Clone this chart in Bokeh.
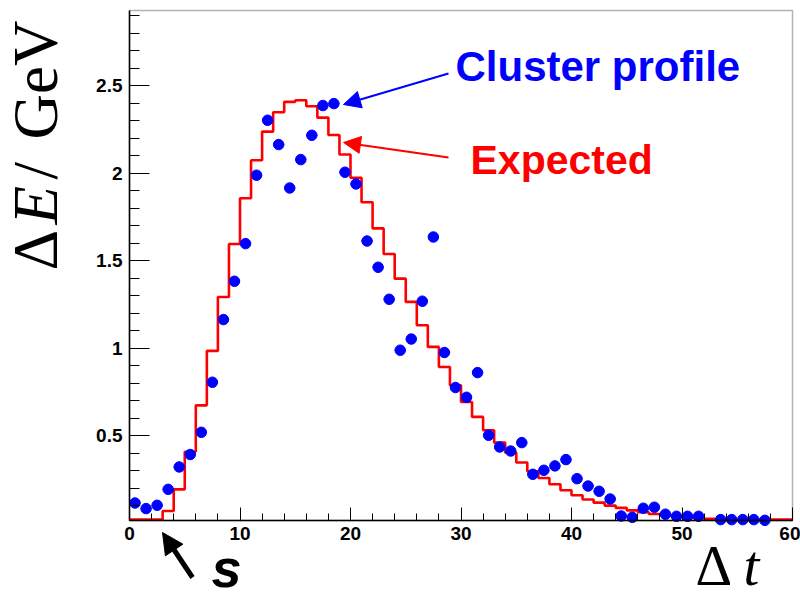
import math
import numpy as np
from bokeh.plotting import figure
from bokeh.models import (Range1d, FixedTicker, Label, Arrow, NormalHead,
                          BoxAnnotation)
from bokeh.embed import file_html
from bokeh.resources import INLINE

# ---------------- data ----------------
bin_edges = list(range(0, 61))  # 60 bins of width 1
expected = [0.0, 0.0, 0.0, 0.071, 0.195, 0.41, 0.675, 0.986, 1.294, 1.597,
            1.858, 2.075, 2.239, 2.35, 2.409, 2.418, 2.384, 2.319, 2.22, 2.108,
            1.975, 1.835, 1.686, 1.54, 1.399, 1.266, 1.133, 1.009, 0.894, 0.79,
            0.694, 0.609, 0.533, 0.462, 0.405, 0.348, 0.298, 0.26, 0.224, 0.19,
            0.161, 0.137, 0.119, 0.102, 0.089, 0.075, 0.064, 0.054, 0.047, 0.041,
            0.035, 0.030, 0.026, 0.024, 0.022, 0.020, 0.019, 0.018, 0.017, 0.017]
cluster_x = [i + 0.5 for i in range(58)]
cluster_y = [0.117, 0.085, 0.104, 0.195, 0.323, 0.394, 0.521, 0.807, 1.165, 1.384,
             1.599, 1.99, 2.304, 2.165, 1.917, 2.079, 2.218, 2.388, 2.399, 2.007,
             1.94, 1.614, 1.464, 1.281, 0.99, 1.054, 1.27, 1.637, 0.977, 0.777,
             0.721, 0.862, 0.504, 0.437, 0.414, 0.462, 0.281, 0.304, 0.329, 0.365,
             0.256, 0.214, 0.184, 0.14, 0.043, 0.035, 0.087, 0.093, 0.053, 0.041,
             0.041, 0.041, float("nan"), 0.022, 0.022, 0.022, 0.022, 0.018]
x_ticks = [0, 10, 20, 30, 40, 50, 60]
x_tick_labels = ["0", "10", "20", "30", "40", "50", "60"]
y_ticks = [0.5, 1, 1.5, 2, 2.5]
y_tick_labels = ["0.5", "1", "1.5", "2", "2.5"]

X_MIN, X_MAX = 0, 60
Y_MIN, Y_MAX = 0.017, 2.931

# ---------------- layout ----------------
W, H = 800, 598
ML, MR, MT, MB = 129, 8, 10, 78          # margins of the ROOT frame box
SX = (W - ML - MR) / (X_MAX - X_MIN)    # pixels per x unit
SY = (H - MT - MB) / (Y_MAX - Y_MIN)    # pixels per y unit
XLO, XHI = X_MIN - ML / SX, X_MAX + MR / SX
YLO, YHI = Y_MIN - MB / SY, Y_MAX + MT / SY
BASE_FIX = 0.36   # empirical shift of Bokeh's text baseline (fraction of size)


def X(px):
    return XLO + px / SX


def Y(py):
    return YHI - py / SY


def label(px, py, text, size, color="black", font="Liberation Sans",
          style="normal", angle=0.0):
    """Place text with its baseline at pixel (px, py)."""
    if angle:
        px -= BASE_FIX * size
    else:
        py -= BASE_FIX * size
    return Label(x=X(px), y=Y(py), text=text, angle=angle, text_font=font,
                 text_font_style=style, text_font_size=f"{size}px",
                 text_color=color, text_align="left",
                 text_baseline="alphabetic")


p = figure(width=W, height=H, output_backend="svg", toolbar_location=None,
           x_range=Range1d(XLO, XHI), y_range=Range1d(YLO, YHI),
           min_border=0, min_border_left=0, min_border_right=0,
           min_border_top=0, min_border_bottom=0)
p.grid.visible = False
p.background_fill_color = "white"
p.border_fill_color = "white"
p.outline_line_color = None

# axes, drawn at the edges of the frame box
for ax in (p.xaxis[0], p.yaxis[0]):
    ax.axis_line_color = "black"
    ax.axis_line_width = 1.5
    ax.major_tick_line_color = "black"
    ax.minor_tick_line_color = "black"
    ax.major_tick_line_width = 1
    ax.minor_tick_line_width = 1
    ax.major_tick_out = 0
    ax.minor_tick_out = 0
    ax.major_label_text_font = "Liberation Sans"
    ax.major_label_text_font_style = "bold"
    ax.major_label_text_font_size = "19px"
    ax.major_label_text_color = "black"

p.xaxis.fixed_location = Y_MIN
p.xaxis.bounds = (X_MIN, X_MAX)
p.xaxis.ticker = FixedTicker(ticks=x_ticks, minor_ticks=list(range(0, 61, 2)))
p.xaxis.major_label_overrides = dict(zip(x_ticks, x_tick_labels))
p.xaxis.major_tick_in = 13
p.xaxis.minor_tick_in = 7
p.xaxis.major_label_standoff = 6

p.yaxis.fixed_location = X_MIN
p.yaxis.bounds = (Y_MIN, Y_MAX)
p.yaxis.ticker = FixedTicker(ticks=y_ticks,
                             minor_ticks=[round(0.1 * i, 1) for i in range(1, 30)])
p.yaxis.major_label_overrides = dict(zip(y_ticks, y_tick_labels))
p.yaxis.major_tick_in = 20
p.yaxis.minor_tick_in = 10
p.yaxis.major_label_standoff = 7

# frame box
p.add_layout(BoxAnnotation(left=X_MIN, right=X_MAX, bottom=Y_MIN, top=Y_MAX,
                           fill_alpha=0, line_color="black", line_width=1.5))

# expected histogram (values below the axis minimum drawn at the minimum)
floor = Y_MIN + 0.006
h_draw = [max(v, floor) for v in expected]
p.step(x=bin_edges, y=h_draw + [h_draw[-1]], mode="after",
       line_color="#ff0000", line_width=2.6)

# cluster profile points with x error bars
cx = np.array(cluster_x)
cy = np.array(cluster_y)
p.segment(x0=cx - 0.5, y0=cy, x1=cx + 0.5, y1=cy, line_color="#0000ff",
          line_width=1)
p.scatter(x=cx, y=cy, size=10.5, marker="circle", fill_color="#0000ff",
          line_color="#0000ff")

# annotations
p.add_layout(label(455, 81, "Cluster profile", 42, color="#0000ff",
                   style="bold"))
p.add_layout(label(470, 174, "Expected", 41, color="#ff0000", style="bold"))
p.add_layout(Arrow(end=NormalHead(size=17, fill_color="#0000ff",
                                  line_color="#0000ff"),
                   x_start=X(448), y_start=Y(73), x_end=X(343), y_end=Y(104),
                   line_color="#0000ff", line_width=2))
p.add_layout(Arrow(end=NormalHead(size=17, fill_color="#ff0000",
                                  line_color="#ff0000"),
                   x_start=X(448), y_start=Y(157), x_end=X(343), y_end=Y(142),
                   line_color="#ff0000", line_width=2))
p.add_layout(Arrow(end=NormalHead(size=21, fill_color="black",
                                  line_color="black"),
                   x_start=X(192), y_start=Y(577), x_end=X(162), y_end=Y(532),
                   line_color="black", line_width=5))
p.add_layout(label(211, 587, "s", 54, style="bold italic"))

# x axis title  Δt
p.add_layout(label(695, 586, "Δ", 57, font="Liberation Serif"))
p.add_layout(label(743, 586, "t", 57, font="Liberation Serif", style="italic"))

# y axis title  ΔE/GeV (rotated)
for txt, py, style in (("Δ", 270, "normal"), ("E", 224, "italic"),
                       ("/", 179, "normal"), ("GeV", 139, "normal")):
    p.add_layout(label(58, py, txt, 63, font="Liberation Serif", style=style,
                       angle=math.pi / 2))

open("out.html", "w").write(file_html(p, INLINE))
